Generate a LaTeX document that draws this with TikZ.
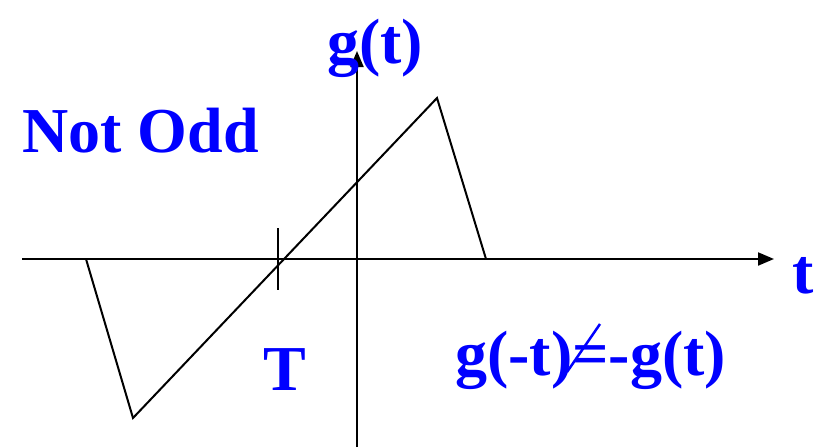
\documentclass[tikz,border=0pt]{standalone}
\usepackage{fontspec}
\setmainfont{Liberation Serif}
\usetikzlibrary{arrows.meta}
\definecolor{lblue}{RGB}{0,0,255}
\begin{document}
\begin{tikzpicture}[x=1pt,y=-1pt,
  axis/.style={line width=2pt,-{Triangle[length=16pt,width=13pt]}},
  wave/.style={line width=2pt,line join=miter},
  lbl/.style={text=lblue,font=\fontsize{64}{64}\selectfont\bfseries,inner sep=0pt,anchor=base west}]
\useasboundingbox (0,0) rectangle (821,447);
% axes
\coordinate (xs) at (22,259);
\coordinate (xe) at (774,259);
\coordinate (ys) at (357,447);
\coordinate (ye) at (357,51);
\draw[axis] (xs) -- (xe);
\draw[axis] (ys) -- (ye);
% waveform
\coordinate (w0) at (86,259);
\coordinate (w1) at (133,418);
\coordinate (w2) at (437,98);
\coordinate (w3) at (486,259);
\draw[wave] (w0) -- (w1) -- (w2) -- (w3);
% tick
\coordinate (t0) at (278,228);
\coordinate (t1) at (278,290);
\draw[line width=2.5pt] (t0) -- (t1);
% labels
\node[lbl] (gt) at (327,63) {g(t)};
\node[lbl] (notodd) at (22,152) {Not Odd};
\node[lbl] (tl) at (792,293) {t};
\node[lbl] (T) at (263,390) {T};
\node[lbl] (eq) at (455,375) {g(-t)=-g(t)};
\coordinate (s0) at (567,372);
\coordinate (s1) at (600,324);
\draw[lblue,line width=2.5pt] (s0) -- (s1);
\end{tikzpicture}
\end{document}
